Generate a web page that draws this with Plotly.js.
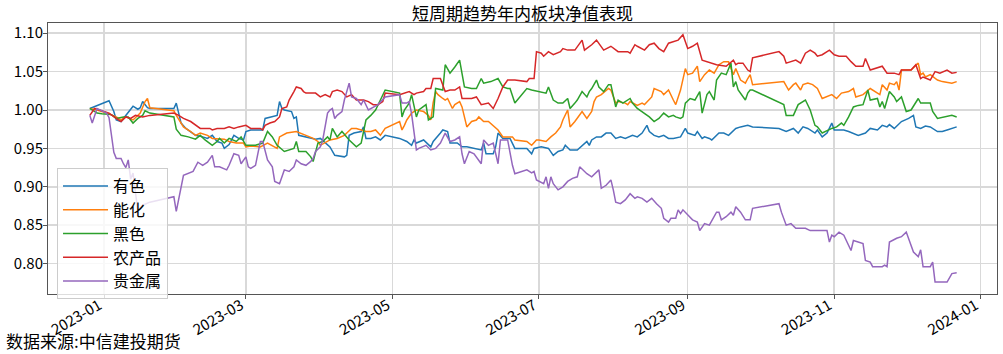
<!DOCTYPE html>
<html>
<head>
<meta charset="utf-8">
<script src="https://cdn.plot.ly/plotly-3.0.1.min.js"></script>
<style>html,body{margin:0;padding:0;background:#fff;}#chart{width:1003px;height:354px;}</style>
</head>
<body>
<div id="chart"></div>
<script>
// ---- data ----
const seriesNames = ['有色', '能化', '黑色', '农产品', '贵金属'];
const seriesColors = ['#1f77b4', '#ff7f0e', '#2ca02c', '#d62728', '#9467bd'];

const youseDates = ['2022-12-26','2022-12-29','2022-12-31','2023-01-03','2023-01-05','2023-01-06','2023-01-08','2023-01-10','2023-01-12','2023-01-13','2023-01-15','2023-01-16','2023-01-17','2023-01-19','2023-01-20','2023-01-30','2023-01-31','2023-02-02','2023-02-04','2023-02-07','2023-02-08','2023-02-11','2023-02-13','2023-02-15','2023-02-16','2023-02-17','2023-02-19','2023-02-20','2023-02-22','2023-02-24','2023-02-26','2023-02-28','2023-03-01','2023-03-03','2023-03-06','2023-03-08','2023-03-09','2023-03-12','2023-03-14','2023-03-15','2023-03-16','2023-03-17','2023-03-20','2023-03-21','2023-03-22','2023-03-23','2023-03-26','2023-03-28','2023-03-30','2023-04-01','2023-04-03','2023-04-05','2023-04-07','2023-04-09','2023-04-11','2023-04-12','2023-04-13','2023-04-15','2023-04-18','2023-04-19','2023-04-20','2023-04-22','2023-04-24','2023-04-26','2023-04-28','2023-05-04','2023-05-07','2023-05-09','2023-05-10','2023-05-11','2023-05-14','2023-05-17','2023-05-18','2023-05-21','2023-05-22','2023-05-24','2023-05-25','2023-05-28','2023-05-30','2023-06-01','2023-06-04','2023-06-07','2023-06-08','2023-06-09','2023-06-12','2023-06-13','2023-06-14','2023-06-16','2023-06-19','2023-06-21','2023-06-26','2023-06-28','2023-06-29','2023-07-02','2023-07-05','2023-07-07','2023-07-09','2023-07-11','2023-07-12','2023-07-14','2023-07-17','2023-07-19','2023-07-21','2023-07-22','2023-07-23','2023-07-25','2023-07-27','2023-07-29','2023-07-31','2023-08-02','2023-08-04','2023-08-06','2023-08-09','2023-08-11','2023-08-13','2023-08-15','2023-08-16','2023-08-18','2023-08-20','2023-08-22','2023-08-24','2023-08-26','2023-08-29','2023-08-31','2023-09-01','2023-09-04','2023-09-05','2023-09-07','2023-09-08','2023-09-10','2023-09-11','2023-09-14','2023-09-16','2023-09-18','2023-09-21','2023-09-23','2023-09-26','2023-09-28','2023-10-09','2023-10-12','2023-10-14','2023-10-15','2023-10-17','2023-10-19','2023-10-21','2023-10-24','2023-10-25','2023-10-27','2023-10-29','2023-10-31','2023-11-01','2023-11-05','2023-11-07','2023-11-09','2023-11-11','2023-11-14','2023-11-16','2023-11-19','2023-11-21','2023-11-23','2023-11-24','2023-11-26','2023-11-29','2023-12-02','2023-12-04','2023-12-05','2023-12-07','2023-12-09','2023-12-11','2023-12-14','2023-12-16','2023-12-18','2023-12-22'];
const youseVals = [1.002,1.006,1.009,1.012,0.998,0.987,0.985,0.993,1.000,1.005,1.001,1.003,1.011,1.003,1.002,1.002,1.009,0.983,0.976,0.970,0.967,0.965,0.963,0.967,0.963,0.959,0.957,0.950,0.955,0.967,0.963,0.961,0.972,0.974,0.974,0.974,0.989,0.991,0.993,1.011,1.002,1.000,0.998,0.989,0.991,0.967,0.965,0.963,0.962,0.963,0.957,0.952,0.941,0.940,0.939,0.941,0.967,0.970,0.972,0.978,0.963,0.963,0.965,0.961,0.967,0.963,0.959,0.954,0.961,0.957,0.961,0.952,0.959,0.970,0.974,0.972,0.957,0.957,0.952,0.952,0.950,0.948,0.957,0.943,0.943,0.952,0.970,0.963,0.963,0.950,0.950,0.943,0.950,0.952,0.950,0.941,0.946,0.948,0.954,0.948,0.948,0.954,0.959,0.954,0.961,0.965,0.965,0.970,0.970,0.963,0.965,0.963,0.967,0.965,0.970,0.980,0.972,0.967,0.965,0.967,0.963,0.963,0.965,0.976,0.970,0.967,0.972,0.963,0.965,0.963,0.961,0.970,0.970,0.967,0.976,0.978,0.980,0.978,0.976,0.972,0.974,0.976,0.970,0.978,0.976,0.970,0.974,0.965,0.970,0.983,0.974,0.974,0.972,0.970,0.967,0.970,0.976,0.974,0.980,0.978,0.981,0.976,0.985,0.989,0.993,0.978,0.976,0.979,0.978,0.972,0.972,0.974,0.978];

const nenghuaDates = ['2022-12-26','2022-12-29','2023-01-02','2023-01-06','2023-01-08','2023-01-10','2023-01-13','2023-01-16','2023-01-18','2023-01-19','2023-01-20','2023-01-30','2023-01-31','2023-02-03','2023-02-06','2023-02-08','2023-02-10','2023-02-13','2023-02-15','2023-02-20','2023-02-22','2023-02-25','2023-02-28','2023-03-01','2023-03-03','2023-03-07','2023-03-10','2023-03-12','2023-03-14','2023-03-15','2023-03-18','2023-03-22','2023-03-24','2023-03-26','2023-03-29','2023-03-31','2023-04-01','2023-04-03','2023-04-05','2023-04-08','2023-04-11','2023-04-12','2023-04-14','2023-04-16','2023-04-18','2023-04-20','2023-04-22','2023-04-24','2023-04-26','2023-04-28','2023-05-04','2023-05-05','2023-05-06','2023-05-07','2023-05-09','2023-05-11','2023-05-14','2023-05-16','2023-05-17','2023-05-18','2023-05-19','2023-05-20','2023-05-22','2023-05-23','2023-05-24','2023-05-26','2023-05-27','2023-05-29','2023-05-30','2023-06-01','2023-06-03','2023-06-05','2023-06-06','2023-06-08','2023-06-10','2023-06-12','2023-06-14','2023-06-16','2023-06-18','2023-06-20','2023-06-21','2023-06-26','2023-06-28','2023-06-30','2023-07-01','2023-07-04','2023-07-06','2023-07-08','2023-07-10','2023-07-11','2023-07-13','2023-07-14','2023-07-16','2023-07-18','2023-07-19','2023-07-21','2023-07-23','2023-07-24','2023-07-25','2023-07-27','2023-07-30','2023-07-31','2023-08-02','2023-08-03','2023-08-06','2023-08-07','2023-08-08','2023-08-11','2023-08-13','2023-08-14','2023-08-17','2023-08-18','2023-08-20','2023-08-21','2023-08-22','2023-08-24','2023-08-26','2023-08-27','2023-08-29','2023-08-31','2023-09-01','2023-09-03','2023-09-05','2023-09-06','2023-09-08','2023-09-10','2023-09-12','2023-09-14','2023-09-16','2023-09-18','2023-09-20','2023-09-21','2023-09-23','2023-09-25','2023-09-26','2023-09-27','2023-09-28','2023-10-09','2023-10-11','2023-10-13','2023-10-15','2023-10-16','2023-10-18','2023-10-19','2023-10-21','2023-10-23','2023-10-25','2023-10-27','2023-10-29','2023-10-31','2023-11-02','2023-11-04','2023-11-07','2023-11-09','2023-11-10','2023-11-13','2023-11-16','2023-11-17','2023-11-20','2023-11-21','2023-11-23','2023-11-24','2023-11-26','2023-11-27','2023-11-28','2023-11-29','2023-12-03','2023-12-06','2023-12-07','2023-12-08','2023-12-09','2023-12-11','2023-12-14','2023-12-16','2023-12-20','2023-12-22'];
const nenghuaVals = [1.002,1.000,0.996,0.991,0.987,0.991,0.987,0.996,1.011,1.015,1.003,0.999,0.993,0.978,0.972,0.967,0.970,0.967,0.963,0.962,0.959,0.957,0.957,0.952,0.953,0.952,0.957,0.954,0.950,0.965,0.970,0.972,0.970,0.967,0.963,0.959,0.954,0.957,0.961,0.963,0.967,0.970,0.976,0.976,0.974,0.972,0.972,0.974,0.967,0.976,0.985,0.974,0.980,0.987,0.996,1.000,0.998,0.993,0.987,1.010,1.024,1.020,1.015,1.013,1.015,1.002,1.007,1.011,1.004,0.978,0.985,0.987,0.991,0.985,0.985,0.980,0.974,0.965,0.965,0.965,0.961,0.959,0.954,0.961,0.961,0.959,0.965,0.970,0.978,0.987,1.000,0.978,0.985,0.993,0.998,0.989,0.998,1.011,1.017,1.020,1.028,1.026,1.009,1.011,1.009,1.007,1.011,1.006,1.009,1.007,1.017,1.028,1.026,1.024,1.020,1.026,1.013,1.007,1.026,1.054,1.046,1.048,1.057,1.037,1.046,1.052,1.048,1.059,1.063,1.063,1.046,1.054,1.039,1.035,1.041,1.046,1.033,1.037,1.037,1.026,1.033,1.035,1.026,1.033,1.035,1.033,1.028,1.015,1.017,1.020,1.015,1.022,1.024,1.028,1.017,1.020,1.028,1.026,1.020,1.033,1.026,1.035,1.033,1.037,1.026,1.052,1.052,1.061,1.046,1.048,1.043,1.046,1.039,1.037,1.035,1.037];

const heiseDates = ['2022-12-26','2022-12-29','2022-12-31','2023-01-04','2023-01-06','2023-01-09','2023-01-11','2023-01-13','2023-01-15','2023-01-17','2023-01-18','2023-01-20','2023-01-30','2023-01-31','2023-02-02','2023-02-05','2023-02-08','2023-02-10','2023-02-12','2023-02-15','2023-02-17','2023-02-18','2023-02-20','2023-02-22','2023-02-25','2023-02-27','2023-03-01','2023-03-05','2023-03-08','2023-03-10','2023-03-12','2023-03-14','2023-03-17','2023-03-19','2023-03-21','2023-03-22','2023-03-23','2023-03-26','2023-03-28','2023-03-29','2023-03-31','2023-04-02','2023-04-04','2023-04-05','2023-04-06','2023-04-08','2023-04-10','2023-04-13','2023-04-16','2023-04-18','2023-04-19','2023-04-20','2023-04-22','2023-04-24','2023-04-26','2023-04-28','2023-05-04','2023-05-05','2023-05-06','2023-05-08','2023-05-09','2023-05-11','2023-05-12','2023-05-13','2023-05-15','2023-05-16','2023-05-18','2023-05-19','2023-05-21','2023-05-22','2023-05-23','2023-05-25','2023-05-27','2023-05-29','2023-05-31','2023-06-03','2023-06-05','2023-06-07','2023-06-08','2023-06-11','2023-06-14','2023-06-16','2023-06-18','2023-06-19','2023-06-21','2023-06-26','2023-06-28','2023-07-01','2023-07-04','2023-07-05','2023-07-07','2023-07-09','2023-07-11','2023-07-13','2023-07-14','2023-07-16','2023-07-17','2023-07-19','2023-07-21','2023-07-22','2023-07-23','2023-07-25','2023-07-26','2023-07-28','2023-07-30','2023-07-31','2023-08-02','2023-08-03','2023-08-05','2023-08-08','2023-08-09','2023-08-11','2023-08-13','2023-08-16','2023-08-18','2023-08-19','2023-08-20','2023-08-22','2023-08-24','2023-08-26','2023-08-27','2023-08-29','2023-08-30','2023-08-31','2023-09-02','2023-09-04','2023-09-06','2023-09-07','2023-09-09','2023-09-10','2023-09-12','2023-09-13','2023-09-15','2023-09-17','2023-09-19','2023-09-20','2023-09-21','2023-09-22','2023-09-25','2023-09-26','2023-09-27','2023-09-28','2023-10-09','2023-10-11','2023-10-12','2023-10-15','2023-10-17','2023-10-18','2023-10-20','2023-10-22','2023-10-24','2023-10-25','2023-10-27','2023-10-31','2023-11-02','2023-11-04','2023-11-05','2023-11-07','2023-11-09','2023-11-11','2023-11-13','2023-11-15','2023-11-16','2023-11-19','2023-11-20','2023-11-21','2023-11-22','2023-11-24','2023-11-26','2023-11-27','2023-11-29','2023-12-01','2023-12-03','2023-12-06','2023-12-07','2023-12-11','2023-12-12','2023-12-14','2023-12-17','2023-12-20','2023-12-22'];
const heiseVals = [1.002,0.996,0.995,0.994,0.989,0.991,0.991,0.983,0.989,0.993,0.999,0.996,0.991,0.975,0.967,0.965,0.962,0.967,0.961,0.954,0.959,0.963,0.957,0.963,0.959,0.965,0.954,0.954,0.957,0.972,0.965,0.954,0.946,0.948,0.950,0.959,0.946,0.946,0.939,0.933,0.957,0.959,0.965,0.961,0.976,0.965,0.972,0.961,0.952,0.957,0.974,0.987,0.993,1.000,1.013,1.026,1.022,0.991,1.000,1.009,1.020,0.991,1.000,1.002,1.007,0.987,0.991,1.028,1.026,1.026,1.059,1.048,1.056,1.065,1.030,1.028,1.028,1.041,1.035,1.037,1.041,1.030,1.028,1.028,1.009,1.028,1.026,1.024,1.022,1.030,1.013,1.009,1.009,1.015,1.002,1.009,1.013,1.024,1.017,1.024,1.028,1.039,1.030,1.024,1.033,1.033,1.004,1.013,1.009,1.015,1.009,1.002,0.998,0.991,0.985,0.987,0.989,0.996,0.991,0.993,0.991,0.989,0.991,1.009,1.015,1.013,1.024,0.996,1.020,1.024,1.013,1.039,1.048,1.046,1.061,1.030,1.037,1.026,1.013,1.022,1.026,1.026,1.009,1.007,0.993,0.993,1.007,1.009,1.013,1.000,0.980,0.978,0.970,0.976,0.978,0.983,0.980,0.991,1.004,1.006,1.007,1.026,1.013,1.015,1.004,1.011,1.002,1.024,1.017,1.011,1.017,0.998,1.000,1.015,1.009,1.009,0.998,0.989,0.991,0.993,0.991];

const nongDates = ['2022-12-26','2022-12-28','2022-12-31','2023-01-03','2023-01-06','2023-01-08','2023-01-10','2023-01-12','2023-01-14','2023-01-17','2023-01-20','2023-01-30','2023-02-01','2023-02-03','2023-02-06','2023-02-08','2023-02-10','2023-02-14','2023-02-15','2023-02-17','2023-02-20','2023-02-22','2023-02-24','2023-02-26','2023-03-01','2023-03-03','2023-03-07','2023-03-08','2023-03-09','2023-03-11','2023-03-13','2023-03-15','2023-03-16','2023-03-18','2023-03-19','2023-03-21','2023-03-22','2023-03-24','2023-03-25','2023-03-26','2023-03-28','2023-03-30','2023-04-01','2023-04-03','2023-04-05','2023-04-06','2023-04-08','2023-04-10','2023-04-12','2023-04-14','2023-04-16','2023-04-19','2023-04-21','2023-04-23','2023-04-25','2023-04-27','2023-04-28','2023-05-04','2023-05-08','2023-05-10','2023-05-11','2023-05-14','2023-05-15','2023-05-17','2023-05-18','2023-05-21','2023-05-23','2023-05-25','2023-05-27','2023-05-29','2023-05-30','2023-06-03','2023-06-05','2023-06-07','2023-06-10','2023-06-12','2023-06-14','2023-06-16','2023-06-18','2023-06-21','2023-06-26','2023-06-27','2023-06-29','2023-06-30','2023-07-02','2023-07-03','2023-07-05','2023-07-07','2023-07-10','2023-07-11','2023-07-13','2023-07-16','2023-07-19','2023-07-20','2023-07-23','2023-07-25','2023-07-28','2023-07-31','2023-08-03','2023-08-07','2023-08-08','2023-08-10','2023-08-11','2023-08-14','2023-08-16','2023-08-18','2023-08-20','2023-08-22','2023-08-24','2023-08-26','2023-08-28','2023-08-30','2023-09-01','2023-09-03','2023-09-05','2023-09-07','2023-09-09','2023-09-11','2023-09-13','2023-09-17','2023-09-20','2023-09-21','2023-09-22','2023-09-24','2023-09-26','2023-09-27','2023-09-28','2023-10-09','2023-10-11','2023-10-12','2023-10-14','2023-10-16','2023-10-18','2023-10-20','2023-10-22','2023-10-24','2023-10-25','2023-10-27','2023-10-30','2023-11-01','2023-11-03','2023-11-06','2023-11-08','2023-11-10','2023-11-13','2023-11-14','2023-11-16','2023-11-21','2023-11-23','2023-11-26','2023-11-28','2023-11-29','2023-12-03','2023-12-05','2023-12-07','2023-12-08','2023-12-11','2023-12-13','2023-12-15','2023-12-18','2023-12-20','2023-12-22'];
const nongVals = [0.993,1.002,0.999,0.996,0.989,0.985,0.991,0.989,0.993,0.991,0.993,0.996,0.993,0.989,0.985,0.980,0.976,0.976,0.974,0.976,0.976,0.978,0.976,0.978,0.980,0.976,0.976,0.974,0.980,0.983,0.985,0.991,1.002,1.004,1.013,1.024,1.030,1.028,1.024,1.022,1.022,1.022,1.017,1.020,1.017,1.024,1.026,1.024,1.017,1.020,1.013,1.013,1.011,1.007,1.007,1.011,1.022,1.020,1.024,1.020,1.022,1.024,1.028,1.028,1.041,1.041,1.024,1.026,1.026,1.030,1.015,1.015,1.017,1.007,1.009,1.002,1.015,1.030,1.039,1.039,1.037,1.041,1.041,1.076,1.074,1.070,1.076,1.072,1.076,1.080,1.078,1.078,1.091,1.078,1.085,1.091,1.078,1.083,1.076,1.076,1.074,1.085,1.083,1.078,1.085,1.087,1.080,1.076,1.087,1.089,1.091,1.098,1.080,1.083,1.087,1.065,1.063,1.061,1.059,1.057,1.065,1.059,1.061,1.061,1.052,1.050,1.068,1.076,1.070,1.061,1.063,1.065,1.061,1.074,1.078,1.074,1.070,1.072,1.078,1.072,1.070,1.070,1.063,1.057,1.057,1.067,1.052,1.057,1.048,1.048,1.046,1.052,1.052,1.059,1.041,1.043,1.039,1.050,1.048,1.052,1.048,1.049];

const guijinDates = ['2022-12-26','2022-12-27','2022-12-29','2023-01-01','2023-01-02','2023-01-03','2023-01-04','2023-01-05','2023-01-06','2023-01-08','2023-01-09','2023-01-10','2023-01-11','2023-01-12','2023-01-13','2023-01-15','2023-01-17','2023-01-20','2023-01-30','2023-01-31','2023-02-03','2023-02-05','2023-02-07','2023-02-09','2023-02-11','2023-02-13','2023-02-15','2023-02-16','2023-02-18','2023-02-21','2023-02-22','2023-02-24','2023-02-26','2023-02-27','2023-03-01','2023-03-02','2023-03-03','2023-03-05','2023-03-07','2023-03-08','2023-03-10','2023-03-12','2023-03-13','2023-03-15','2023-03-17','2023-03-19','2023-03-21','2023-03-22','2023-03-24','2023-03-26','2023-03-28','2023-03-29','2023-03-30','2023-04-01','2023-04-02','2023-04-04','2023-04-05','2023-04-06','2023-04-07','2023-04-08','2023-04-10','2023-04-11','2023-04-13','2023-04-14','2023-04-16','2023-04-18','2023-04-19','2023-04-21','2023-04-23','2023-04-25','2023-04-28','2023-05-04','2023-05-05','2023-05-07','2023-05-08','2023-05-09','2023-05-11','2023-05-12','2023-05-15','2023-05-17','2023-05-19','2023-05-21','2023-05-23','2023-05-25','2023-05-27','2023-05-29','2023-05-30','2023-05-31','2023-06-02','2023-06-04','2023-06-07','2023-06-08','2023-06-10','2023-06-12','2023-06-14','2023-06-15','2023-06-18','2023-06-20','2023-06-21','2023-06-26','2023-06-28','2023-06-29','2023-06-30','2023-07-03','2023-07-04','2023-07-05','2023-07-06','2023-07-07','2023-07-09','2023-07-11','2023-07-13','2023-07-15','2023-07-17','2023-07-18','2023-07-21','2023-07-23','2023-07-26','2023-07-27','2023-07-29','2023-07-31','2023-08-01','2023-08-02','2023-08-04','2023-08-06','2023-08-08','2023-08-10','2023-08-11','2023-08-13','2023-08-15','2023-08-17','2023-08-19','2023-08-21','2023-08-22','2023-08-24','2023-08-25','2023-08-27','2023-08-28','2023-08-29','2023-08-30','2023-09-01','2023-09-03','2023-09-05','2023-09-06','2023-09-08','2023-09-10','2023-09-13','2023-09-14','2023-09-15','2023-09-17','2023-09-19','2023-09-20','2023-09-21','2023-09-23','2023-09-25','2023-09-26','2023-09-27','2023-09-28','2023-10-09','2023-10-10','2023-10-12','2023-10-14','2023-10-16','2023-10-20','2023-10-22','2023-10-25','2023-10-29','2023-10-30','2023-10-31','2023-11-01','2023-11-03','2023-11-05','2023-11-06','2023-11-08','2023-11-09','2023-11-11','2023-11-13','2023-11-14','2023-11-16','2023-11-17','2023-11-21','2023-11-22','2023-11-23','2023-11-24','2023-11-27','2023-11-29','2023-12-01','2023-12-04','2023-12-06','2023-12-07','2023-12-08','2023-12-11','2023-12-12','2023-12-13','2023-12-18','2023-12-20','2023-12-22'];
const guijinVals = [0.993,0.983,1.002,0.997,0.996,0.990,0.965,0.945,0.937,0.937,0.930,0.925,0.935,0.910,0.918,0.868,0.876,0.880,0.887,0.868,0.915,0.918,0.920,0.932,0.928,0.932,0.941,0.926,0.926,0.922,0.928,0.943,0.941,0.930,0.939,0.926,0.924,0.928,0.959,0.959,0.935,0.926,0.907,0.904,0.922,0.920,0.926,0.935,0.930,0.928,0.933,0.937,0.946,0.952,0.961,0.996,1.000,1.002,0.989,0.993,0.998,1.013,1.035,1.017,1.015,1.007,1.013,1.000,1.004,1.007,1.017,1.020,1.009,1.009,1.011,0.995,0.948,0.950,0.954,0.948,0.950,0.957,0.970,0.959,0.961,0.965,0.943,0.930,0.946,0.943,0.930,0.961,0.954,0.957,0.930,0.961,0.961,0.928,0.917,0.922,0.918,0.920,0.909,0.904,0.913,0.898,0.913,0.904,0.896,0.900,0.907,0.911,0.913,0.926,0.917,0.913,0.922,0.898,0.902,0.909,0.896,0.880,0.878,0.883,0.891,0.885,0.887,0.885,0.880,0.885,0.878,0.872,0.859,0.854,0.859,0.859,0.870,0.865,0.870,0.863,0.857,0.854,0.843,0.852,0.850,0.867,0.867,0.857,0.861,0.867,0.863,0.874,0.867,0.857,0.857,0.857,0.872,0.878,0.867,0.850,0.852,0.846,0.846,0.843,0.843,0.843,0.828,0.837,0.835,0.841,0.837,0.830,0.817,0.830,0.828,0.826,0.804,0.802,0.796,0.796,0.798,0.796,0.828,0.833,0.835,0.841,0.815,0.809,0.818,0.796,0.796,0.802,0.776,0.776,0.787,0.788];

const xTickVals = ['2023-01-01','2023-03-01','2023-05-01','2023-07-01','2023-09-01','2023-11-01','2024-01-01'];
const xTickText = ['2023-01','2023-03','2023-05','2023-07','2023-09','2023-11','2024-01'];
const yTickVals = [0.80, 0.85, 0.90, 0.95, 1.00, 1.05, 1.10];
const yTickText = ['0.80','0.85','0.90','0.95','1.00','1.05','1.10'];
const chartTitle = '短周期趋势年内板块净值表现';
const sourceText = '数据来源:中信建投期货';

// ---- chart ----
const allDates = [youseDates, nenghuaDates, heiseDates, nongDates, guijinDates];
const allVals = [youseVals, nenghuaVals, heiseVals, nongVals, guijinVals];
const FONT = '"Noto Sans CJK SC", "Noto Sans", sans-serif';

const traces = seriesNames.map((name, i) => ({
  type: 'scatter', mode: 'lines', name: name,
  x: allDates[i], y: allVals[i],
  line: {color: seriesColors[i], width: 1.5}
}));

const axisCommon = {
  showgrid: true, gridcolor: '#d9d9d9', gridwidth: 1.5,
  showline: true, linecolor: '#555555', linewidth: 1, mirror: true,
  ticks: 'outside', ticklen: 4, tickcolor: '#555555',
  zeroline: false, tickfont: {size: 15, color: '#000', family: FONT}
};

const layout = {
  width: 1003, height: 354,
  margin: {l: 48, r: 6, t: 23, b: 60, pad: 0},
  paper_bgcolor: '#ffffff', plot_bgcolor: '#ffffff',
  font: {family: FONT, color: '#000'},
  title: {text: chartTitle, font: {size: 17, color: '#000', family: FONT},
          xref: 'paper', x: 0.5, xanchor: 'center', yref: 'container', y: 0.96, yanchor: 'middle'},
  xaxis: Object.assign({}, axisCommon, {
    type: 'date', range: ['2022-12-08 14:00', '2024-01-07 19:00'],
    tickmode: 'array', tickvals: xTickVals, ticktext: xTickText, tickangle: -30,
    ticklabelstandoff: -8, ticklabelshift: -5
  }),
  yaxis: Object.assign({}, axisCommon, {
    range: [0.7604, 1.1133], tickmode: 'array', tickvals: yTickVals, ticktext: yTickText,
    ticklabelstandoff: -3
  }),
  showlegend: true,
  legend: {x: 0.0095, y: 0.465, xanchor: 'left', yanchor: 'top', itemwidth: 45,
           bgcolor: 'rgba(255,255,255,0.8)', bordercolor: '#cccccc', borderwidth: 1,
           font: {size: 16, color: '#000', family: FONT}},
  annotations: [{
    text: sourceText, xref: 'paper', yref: 'paper',
    x: -0.0464, y: -0.173, xanchor: 'left', yanchor: 'middle', showarrow: false,
    font: {size: 17, color: '#000', family: FONT}
  }]
};

Plotly.newPlot('chart', traces, layout, {displayModeBar: false, staticPlot: true});
</script>
</body>
</html>
